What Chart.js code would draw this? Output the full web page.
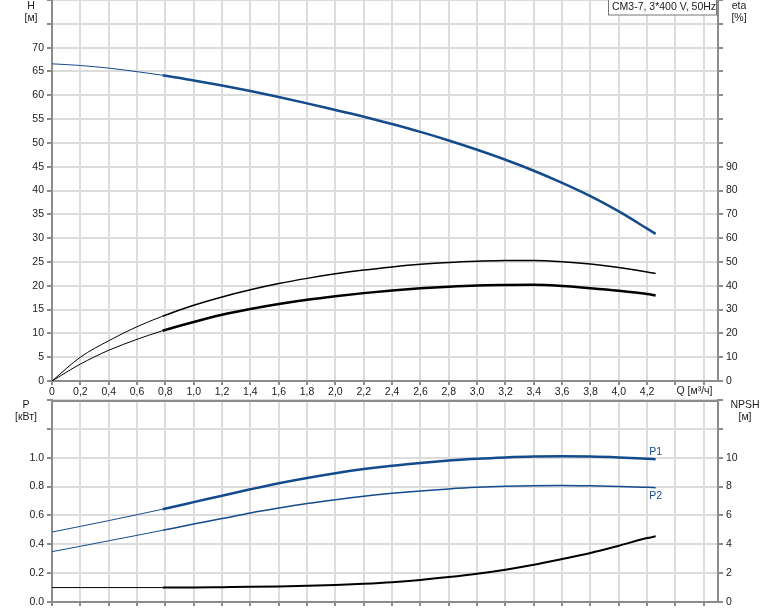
<!DOCTYPE html>
<html>
<head>
<meta charset="utf-8">
<script src="https://cdn.jsdelivr.net/npm/chart.js@4.4.0/dist/chart.umd.min.js"></script>
<style>
  body { margin: 0; background: #fff; }
  #wrap { position: relative; width: 774px; height: 611px; overflow: hidden; }
  canvas { position: absolute; left: 0; }
</style>
</head>
<body>
<div id="wrap">
  <canvas id="curveChart" width="774" height="400" style="top:0"></canvas>
  <canvas id="powerChart" width="774" height="213" style="top:398px"></canvas>
</div>
<script>
// Q [m3/h] - shared by all curves
const flow = [0, 0.2, 0.4, 0.6, 0.78, 1.0, 1.2, 1.4, 1.6, 1.8, 2.0, 2.2, 2.4, 2.6, 2.8, 3.0, 3.2, 3.4, 3.6, 3.8, 4.0, 4.2, 4.26];
// head H [m]
const head = [66.6, 66.25, 65.7, 64.95, 64.2, 63.1, 62.05, 60.9, 59.65, 58.3, 56.9, 55.5, 53.95, 52.3, 50.5, 48.55, 46.45, 44.15, 41.6, 38.8, 35.6, 32.0, 30.9];
// efficiency [%]
const etaPump = [0, 10.0, 16.9, 22.8, 27.2, 31.8, 35.3, 38.3, 40.9, 43.1, 45.0, 46.6, 47.9, 49.0, 49.8, 50.3, 50.6, 50.6, 50.1, 49.1, 47.7, 45.8, 45.1];
const etaTotal = [0, 7.1, 12.9, 17.5, 21.1, 24.8, 27.8, 30.2, 32.3, 34.1, 35.6, 36.9, 38.0, 38.9, 39.6, 40.1, 40.3, 40.4, 39.9, 39.0, 37.9, 36.5, 35.9];
// power [kW]
const powerP1 = [0.485, 0.524, 0.564, 0.605, 0.643, 0.692, 0.737, 0.781, 0.823, 0.860, 0.893, 0.921, 0.945, 0.964, 0.980, 0.993, 1.002, 1.008, 1.010, 1.008, 1.002, 0.993, 0.990];
const powerP2 = [0.349, 0.386, 0.424, 0.462, 0.497, 0.540, 0.578, 0.617, 0.651, 0.682, 0.709, 0.733, 0.753, 0.770, 0.784, 0.795, 0.802, 0.806, 0.807, 0.805, 0.801, 0.795, 0.792];
// NPSH [m]
const npsh = [1.0, 1.0, 1.0, 1.0, 1.0, 1.01, 1.03, 1.05, 1.08, 1.12, 1.18, 1.26, 1.37, 1.53, 1.73, 1.96, 2.24, 2.58, 2.98, 3.40, 3.90, 4.43, 4.55];

const titleText = 'CM3-7, 3*400 V, 50Hz';
const dutyStart = 0.78; // curves get thick from here on

const FONT = '"Liberation Sans", Arial, sans-serif';
const BLUE = '#144b8c';
const GRID = '#dcdcdc';
const AXIS = '#8c8c8c';

Chart.defaults.font.family = FONT;
Chart.defaults.font.size = 10.5;
Chart.defaults.color = '#222';

const points = arr => arr.map((v, i) => ({ x: flow[i], y: v }));

function curve(values, color, thick, axis) {
    return {
        data: points(values),
        yAxisID: axis,
        borderColor: color,
        borderWidth: 1,
        pointRadius: 0,
        cubicInterpolationMode: 'monotone',
        segment: {
            borderWidth: c => c.p0.parsed.x >= dutyStart - 1e-6 ? thick : 1
        }
    };
}

function xAxis(showLabels, height) {
    return {
        type: 'linear',
        min: 0,
        max: 4.7,
        afterBuildTicks: s => {
            s.ticks = [];
            for (let i = 0; i <= 23; i++) s.ticks.push({ value: Math.round(i * 2) / 10 });
        },
        afterFit: s => {
            s.height = height;
            s.paddingLeft = 0;
            s.paddingRight = 0;
        },
        grid: { color: GRID, lineWidth: 2, tickColor: AXIS, tickLength: 4 },
        border: { color: AXIS, width: 2 },
        ticks: {
            display: showLabels,
            autoSkip: false,
            maxRotation: 0,
            padding: 1,
            callback: v => v === 0 ? '0' : (v > 4.3 ? '' : v.toFixed(1).replace('.', ','))
        }
    };
}

function yAxis(pos, max, step, lastLabel, fmt) {
    return {
        position: pos,
        min: 0,
        max: max,
        afterBuildTicks: s => {
            s.ticks = [];
            for (let v = 0; v <= max + 1e-9; v += step) s.ticks.push({ value: Math.round(v * 100) / 100 });
        },
        afterFit: s => {
            s.width = pos === 'left' ? 52 : 56;
            s.paddingTop = 0;
            s.paddingBottom = 0;
        },
        grid: {
            drawOnChartArea: pos === 'left',
            color: GRID,
            lineWidth: 2,
            tickColor: AXIS,
            tickLength: 5
        },
        border: { color: AXIS, width: 2 },
        ticks: {
            padding: 3,
            callback: v => v <= lastLabel + 1e-9 ? fmt(v) : ''
        }
    };
}

function drawTexts(ctx, texts) {
    ctx.save();
    ctx.font = '10.5px ' + FONT;
    ctx.textBaseline = 'middle';
    texts.forEach(t => {
        ctx.fillStyle = t.color || '#222';
        ctx.textAlign = t.align || 'center';
        ctx.fillText(t.text, t.x, t.y);
    });
    ctx.restore();
}

// top chart: H and efficiency
new Chart(document.getElementById('curveChart'), {
    type: 'line',
    data: {
        datasets: [
            curve(head, BLUE, 2.5, 'yH'),
            curve(etaPump, '#000', 1.5, 'yEta'),
            curve(etaTotal, '#000', 2.5, 'yEta')
        ]
    },
    options: {
        responsive: false,
        animation: false,
        devicePixelRatio: 1,
        layout: { padding: 0 },
        plugins: { legend: { display: false }, tooltip: { enabled: false } },
        scales: {
            x: xAxis(true, 19),
            yH: yAxis('left', 80, 5, 70, v => String(v)),
            yEta: yAxis('right', 160, 10, 90, v => String(v))
        }
    },
    plugins: [{
        id: 'curveTexts',
        afterDraw(chart) {
            const ctx = chart.ctx;
            const x = chart.scales.x;
            drawTexts(ctx, [
                { text: 'H', x: 31, y: 6 },
                { text: '[м]', x: 31, y: 18 },
                { text: 'eta', x: 739, y: 6 },
                { text: '[%]', x: 739, y: 18 },
                { text: 'Q [м³/ч]', x: x.getPixelForValue(4.4) + 1, y: 391, align: 'left' }
            ]);
            // title box
            ctx.save();
            ctx.fillStyle = '#fff';
            ctx.fillRect(608, 0, 109, 15);
            ctx.strokeStyle = '#777';
            ctx.lineWidth = 1;
            ctx.strokeRect(608.5, -1, 108, 16);
            ctx.restore();
            drawTexts(ctx, [{ text: titleText, x: 612, y: 7.5, align: 'left' }]);
        }
    }]
});

// bottom chart: power and NPSH
new Chart(document.getElementById('powerChart'), {
    type: 'line',
    data: {
        datasets: [
            curve(powerP1, BLUE, 2.5, 'yP'),
            curve(powerP2, BLUE, 1.5, 'yP'),
            curve(npsh, '#000', 2, 'yN')
        ]
    },
    options: {
        responsive: false,
        animation: false,
        devicePixelRatio: 1,
        layout: { padding: { top: 2 } },
        plugins: { legend: { display: false }, tooltip: { enabled: false } },
        scales: {
            x: xAxis(false, 9),
            yP: yAxis('left', 1.4, 0.2, 1.0, v => v.toFixed(1)),
            yN: yAxis('right', 14, 2, 10, v => String(v))
        }
    },
    plugins: [{
        id: 'powerTexts',
        afterDraw(chart) {
            const ctx = chart.ctx;
            const a = chart.chartArea;
            const x = chart.scales.x;
            const y = chart.scales.yP;
            const last = flow.length - 1;
            // frame top line
            ctx.save();
            ctx.strokeStyle = AXIS;
            ctx.lineWidth = 2;
            ctx.beginPath();
            ctx.moveTo(a.left - 1, a.top + 1);
            ctx.lineTo(a.right + 1, a.top + 1);
            ctx.stroke();
            ctx.restore();
            drawTexts(ctx, [
                { text: 'P', x: 26, y: 7 },
                { text: '[кВт]', x: 26, y: 19 },
                { text: 'NPSH', x: 745, y: 7 },
                { text: '[м]', x: 745, y: 19 },
                { text: 'P1', x: x.getPixelForValue(flow[last]), y: y.getPixelForValue(powerP1[last]) - 7, color: BLUE },
                { text: 'P2', x: x.getPixelForValue(flow[last]), y: y.getPixelForValue(powerP2[last]) + 8, color: BLUE }
            ]);
        }
    }]
});
</script>
</body>
</html>
